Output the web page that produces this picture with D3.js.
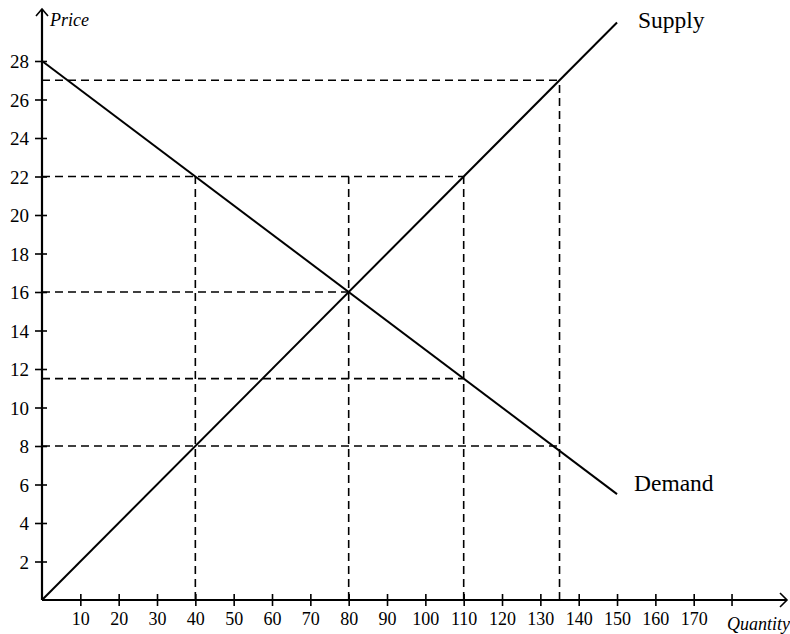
<!DOCTYPE html>
<html><head><meta charset="utf-8">
<script src="https://cdn.jsdelivr.net/npm/d3@7/dist/d3.min.js"></script>
<style>
html,body{margin:0;padding:0;background:#fff;}
svg{display:block;font-family:"Liberation Serif","DejaVu Serif",serif;}
</style></head>
<body>
<svg id="chart" width="790" height="634"></svg>
<script>
// ---- data ----
const xTicks = [10,20,30,40,50,60,70,80,90,100,110,120,130,140,150,160,170];
const yTicks = [2,4,6,8,10,12,14,16,18,20,22,24,26,28];
const supply = [[0,0],[150,30]];
const demand = [[0,28],[150,5.5]];
// guide lines: horizontal [price, qFrom, qTo], vertical [qty, pFrom, pTo]
const hGuides = [[27,0,135],[22,0,110],[16,0,80],[11.5,0,110],[8,0,135]];
const vGuides = [[40,0,22],[80,0,22],[110,0,22],[135,0,27]];
const labels = {x:"Quantity", y:"Price", supply:"Supply", demand:"Demand"};

const svg = d3.select("#chart");
const x = d3.scaleLinear().domain([0,170]).range([42,693.7]);
const y = d3.scaleLinear().domain([0,28]).range([600,61]);

// dashed guides
svg.append("g").selectAll("line").data(hGuides).join("line")
  .attr("x1",d=>x(d[1])).attr("x2",d=>x(d[2]))
  .attr("y1",d=>y(d[0])).attr("y2",d=>y(d[0]))
  .attr("stroke","#000").attr("stroke-width",1.6).attr("stroke-dasharray","8,5");
svg.append("g").selectAll("line").data(vGuides).join("line")
  .attr("x1",d=>x(d[0])).attr("x2",d=>x(d[0]))
  .attr("y1",d=>y(d[1])).attr("y2",d=>y(d[2]))
  .attr("stroke","#000").attr("stroke-width",1.6).attr("stroke-dasharray","8,5");

// curves
const line = d3.line().x(d=>x(d[0])).y(d=>y(d[1]));
[supply,demand].forEach(s=>{
  svg.append("path").attr("d",line(s)).attr("fill","none")
    .attr("stroke","#000").attr("stroke-width",2);
});

// x axis
const xAxis = svg.append("g").attr("transform","translate(0,600)")
  .call(d3.axisBottom(x).tickValues(xTicks).tickSize(6).tickSizeOuter(0));
xAxis.select(".domain").remove();
xAxis.selectAll(".tick line").attr("y1",-6).attr("y2",6).attr("stroke-width",1.6);
xAxis.selectAll(".tick text").attr("y",12).attr("dy","0.71em")
  .attr("font-size",18).attr("font-family","Liberation Serif").attr("fill","#000");
// extra tick at 180 for quantity label
const q180 = x(0) + (x(170)-x(0))/170*180;
svg.append("line").attr("x1",q180).attr("x2",q180).attr("y1",594).attr("y2",606)
  .attr("stroke","#000").attr("stroke-width",1.6);
svg.append("text").attr("x",q180-5).attr("y",630).attr("font-size",18)
  .attr("font-style","italic").text(labels.x);
svg.append("line").attr("x1",42).attr("x2",787).attr("y1",600).attr("y2",600)
  .attr("stroke","#000").attr("stroke-width",2.2);
svg.append("path").attr("d","M780,593L787,600L780,607").attr("fill","none")
  .attr("stroke","#000").attr("stroke-width",1.6);

// y axis
const yAxis = svg.append("g").attr("transform","translate(42,0)")
  .call(d3.axisLeft(y).tickValues(yTicks).tickSize(6).tickSizeOuter(0));
yAxis.select(".domain").remove();
yAxis.selectAll(".tick line").attr("x1",-7).attr("x2",5).attr("stroke-width",1.6);
yAxis.selectAll(".tick text").attr("x",-13).attr("dy","0.35em")
  .attr("font-size",19).attr("font-family","Liberation Serif").attr("fill","#000");
svg.append("line").attr("x1",42).attr("x2",42).attr("y1",600).attr("y2",9)
  .attr("stroke","#000").attr("stroke-width",2.2);
svg.append("path").attr("d","M36,16L42,9L48,16").attr("fill","none")
  .attr("stroke","#000").attr("stroke-width",1.6);
svg.append("text").attr("x",50).attr("y",26).attr("font-size",18)
  .attr("font-style","italic").text(labels.y);

// curve labels
svg.append("text").attr("x",638).attr("y",28).attr("font-size",23.5).text(labels.supply);
svg.append("text").attr("x",634).attr("y",491).attr("font-size",23.5).text(labels.demand);
</script>
</body></html>
